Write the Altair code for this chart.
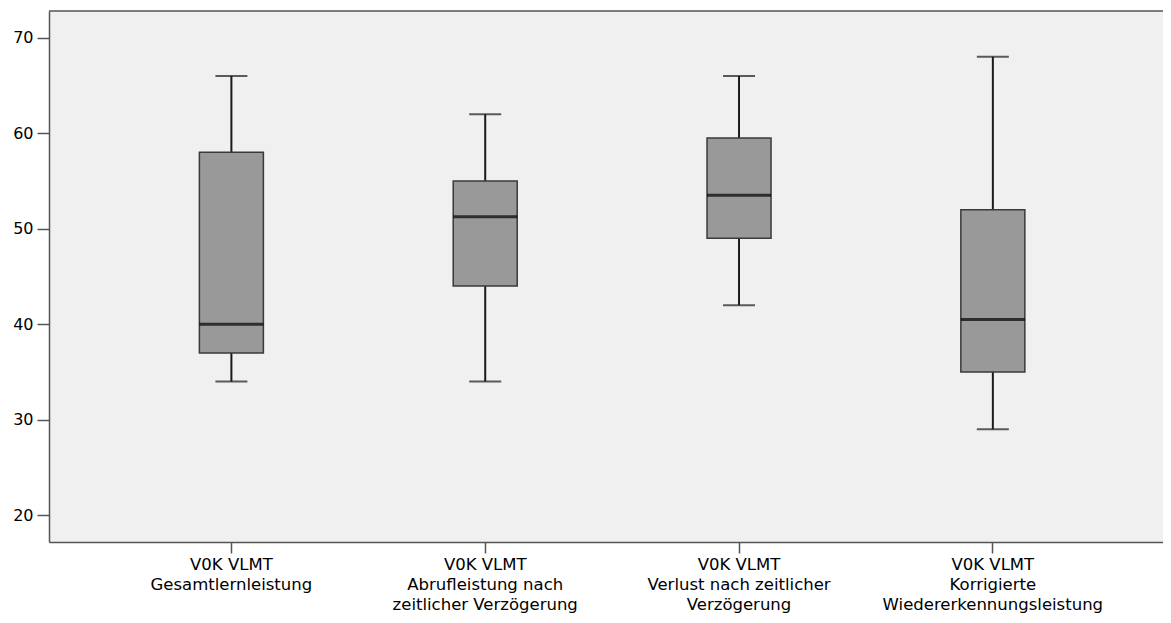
import altair as alt
import pandas as pd

cats = [
    "V0K VLMT|Gesamtlernleistung",
    "V0K VLMT|Abrufleistung nach|zeitlicher Verzögerung",
    "V0K VLMT|Verlust nach zeitlicher|Verzögerung",
    "V0K VLMT|Korrigierte|Wiedererkennungsleistung",
]
lo = [34, 34, 42, 29]
q1 = [37, 44, 49, 35]
med = [40, 51.25, 53.5, 40.5]
q3 = [58, 55, 59.5, 52]
hi = [66, 62, 66, 68]
y_ticks = [20, 30, 40, 50, 60, 70]

df = pd.DataFrame({"cat": cats, "lo": lo, "q1": q1, "med": med, "q3": q3, "hi": hi})

W = 1114
H = 531
PAD_L, PAD_T = 41, 3
TOTAL_W, TOTAL_H = 1155, 605
FONT = "DejaVu Sans"

xscale = alt.Scale(domain=cats, paddingInner=0, paddingOuter=0.1945, align=0.562)
yscale = alt.Scale(domain=[17.2, 72.8], nice=False, zero=False)

xaxis = alt.Axis(
    title=None, labelAngle=0, labelExpr="split(datum.label, '|')",
    labelFontSize=16.5, labelLineHeight=20, labelFont=FONT, labelColor="#000000",
    labelPadding=3, labelLimit=0, labelBaseline="top",
    domainColor="#555555", domainWidth=1.5, tickColor="#555555", tickWidth=1.5, tickSize=11,
)
yaxis = alt.Axis(
    title=None, values=y_ticks, grid=False,
    labelFontSize=16, labelFont=FONT, labelColor="#000000", labelPadding=4,
    domainColor="#555555", domainWidth=1.5, tickColor="#555555", tickWidth=1.5, tickSize=12,
)

base = alt.Chart(df).encode(x=alt.X("cat:N", sort=cats, scale=xscale, axis=xaxis))

whisker = base.mark_rule(color="#1a1a1a", strokeWidth=2).encode(
    y=alt.Y("lo:Q", scale=yscale, axis=yaxis), y2="hi:Q")
box = base.mark_bar(size=64, color="#999999", stroke="#3a3a3a", strokeWidth=1.5).encode(
    y=alt.Y("q1:Q", scale=yscale), y2="q3:Q")
median = base.mark_tick(size=64, thickness=3, color="#000000").encode(y=alt.Y("med:Q", scale=yscale))
cap_lo = base.mark_tick(size=32, thickness=2, color="#1a1a1a").encode(y=alt.Y("lo:Q", scale=yscale))
cap_hi = base.mark_tick(size=32, thickness=2, color="#1a1a1a").encode(y=alt.Y("hi:Q", scale=yscale))

top_border = alt.Chart(pd.DataFrame({"a": [0]})).mark_rule(color="#555555", strokeWidth=1.5).encode(
    x=alt.value(0), x2=alt.value(W), y=alt.value(0))

chart = alt.layer(whisker, box, median, cap_lo, cap_hi, top_border).properties(
    width=W, height=H,
    autosize=alt.AutoSizeParams(type="none"),
    padding={"left": PAD_L, "top": PAD_T, "right": TOTAL_W - PAD_L - W,
             "bottom": TOTAL_H - PAD_T - H},
).configure_view(fill="#f0f0f0", strokeWidth=0)

chart.save("out.html", embed_options={"renderer": "svg", "actions": False})
